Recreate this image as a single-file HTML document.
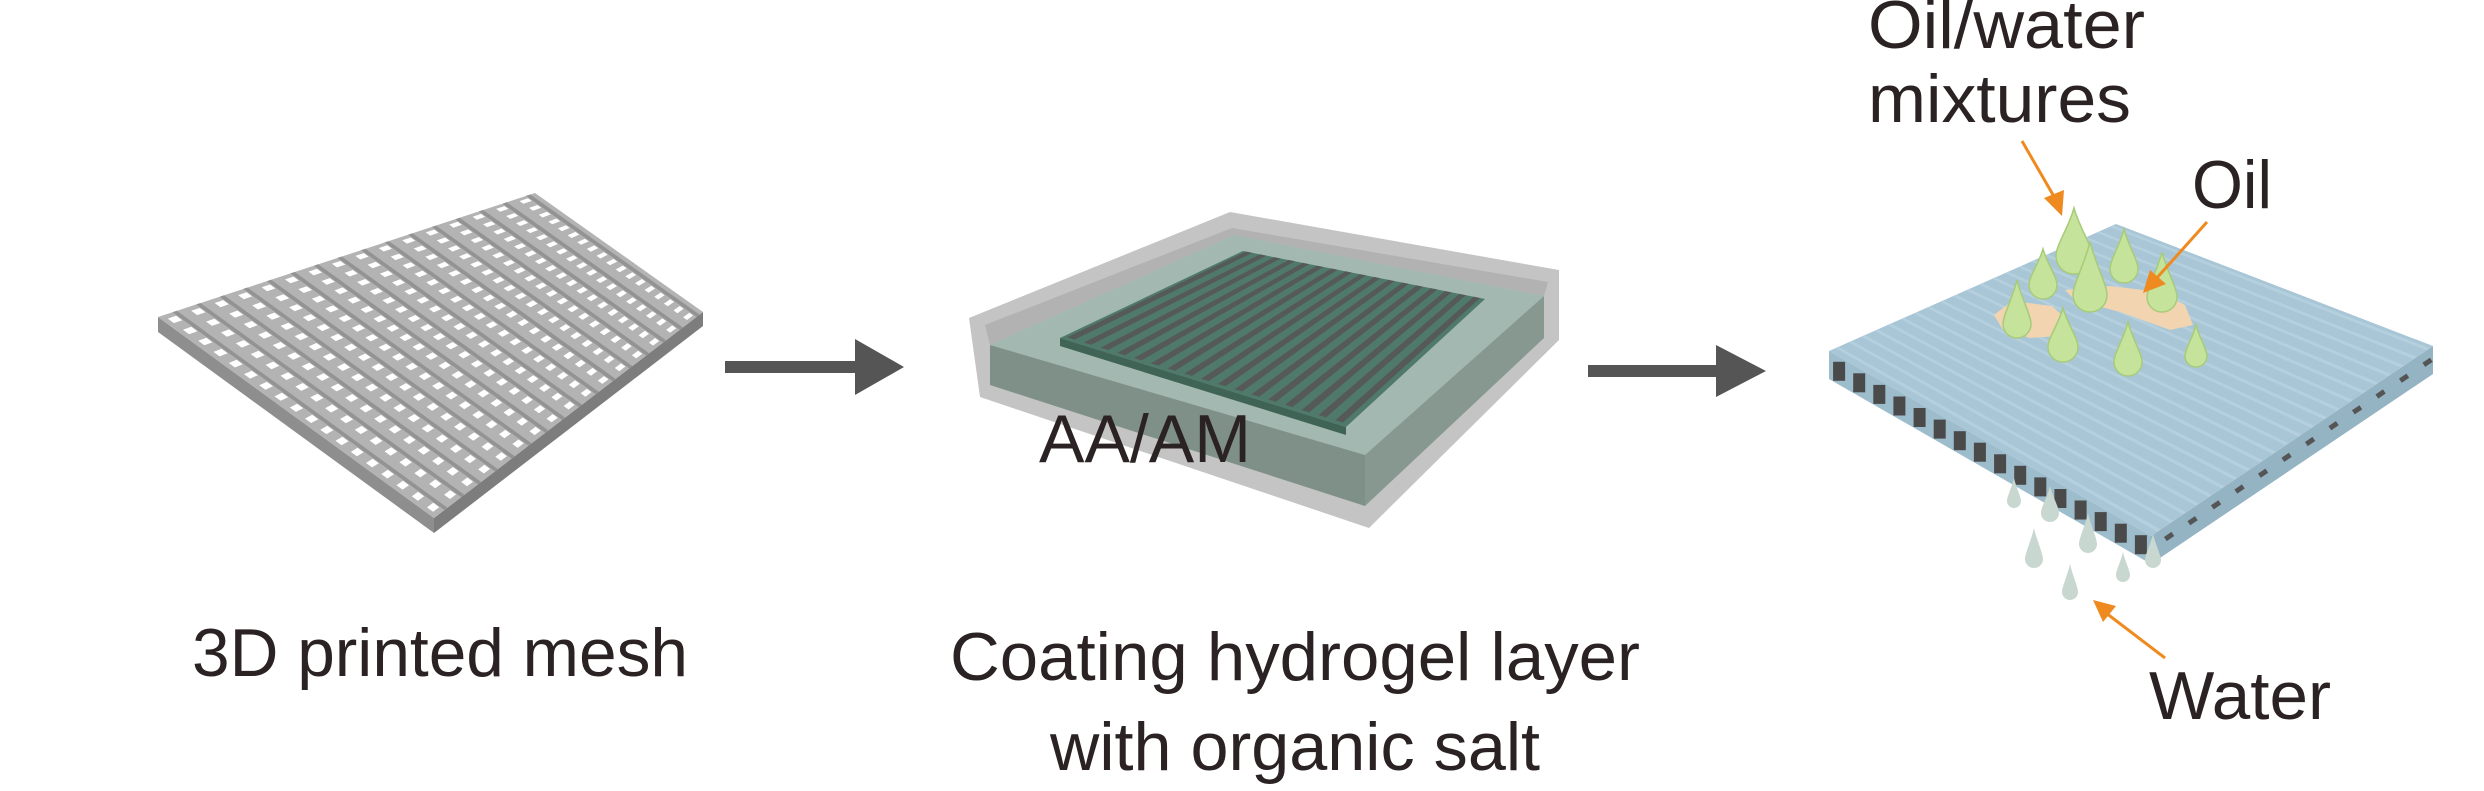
<!DOCTYPE html>
<html><head><meta charset="utf-8"><style>
html,body{margin:0;padding:0;background:#fff;}
svg{display:block;}
text{font-family:"Liberation Sans",sans-serif;fill:#2b2323;}
</style></head><body>
<svg id="s" width="2484" height="791" viewBox="0 0 2484 791" xmlns="http://www.w3.org/2000/svg">
<!-- mesh 1 side faces -->
<polygon points="158,317 434,518 434,533 158,332" fill="#8e8e8e"/>
<polygon points="434,518 703,312 703,326 434,533" fill="#7d7d7d"/>
<polygon points="158,317 535,193 703,312 434,518" fill="#b3b3b3"/>
<g id="m1"></g>
<!-- arrow 1 -->
<rect x="725" y="361" width="132" height="12" fill="#555"/>
<polygon points="855,339 904,367 855,395" fill="#555"/>
<!-- box -->
<polygon points="969,318 1230,212 1559,270 1559,340 1369,528 980,397" fill="#c4c4c4"/>
<polygon points="985,325 1232,228 1548,282 1544,296 1234,235 990,345" fill="#b2b2b2"/>
<polygon points="990,345 1234,235 1544,296 1365,455" fill="#a3b8b0"/>
<polygon points="990,345 1365,455 1365,506 990,385" fill="#7f9088"/>
<polygon points="1365,455 1544,296 1544,338 1365,506" fill="#879891"/>
<polygon points="1060,338 1243,251 1485,299 1346,427" fill="#4f7a6b"/>
<polygon points="1060,338 1346,427 1346,435 1060,346" fill="#3f6355"/>
<g id="m2"></g>
<text x="1039" y="462" font-size="68" textLength="212" lengthAdjust="spacingAndGlyphs">AA/AM</text>
<!-- arrow 2 -->
<rect x="1588" y="365" width="130" height="12" fill="#555"/>
<polygon points="1716,345 1766,371 1716,397" fill="#555"/>
<!-- mesh 3 -->
<polygon points="1829,351 2151,536 2151,564 1829,379" fill="#9dbccc"/>
<polygon points="2151,536 2433,346 2433,374 2151,564" fill="#94b3c3"/>
<polygon points="1829,351 2116,224 2433,346 2151,536" fill="#a9c6d6"/>
<g id="m3"></g>
<!-- oil -->
<polygon points="1994,315 2012,301 2052,306 2065,318 2058,336 2030,338 2003,330" fill="#f2d4b0"/>
<polygon points="2065,290 2110,286 2160,292 2185,305 2193,325 2170,330 2120,312 2075,300" fill="#f2d4b0"/>
<g id="drops"></g>
<!-- orange arrows -->
<g stroke="#ee8a1f" stroke-width="3" fill="#ee8a1f">
<line x1="2022" y1="141" x2="2056" y2="200"/>
<polygon points="2062,216 2044,198 2064,190" stroke="none"/>
<line x1="2207" y1="222" x2="2155" y2="280"/>
<polygon points="2143,293 2150,270 2166,284" stroke="none"/>
<line x1="2165" y1="658" x2="2106" y2="613"/>
<polygon points="2093,600 2116,606 2103,622" stroke="none"/>
</g>
<!-- text -->
<text x="192" y="676" font-size="68" textLength="496" lengthAdjust="spacingAndGlyphs">3D printed mesh</text>
<text x="950" y="680" font-size="68" textLength="690" lengthAdjust="spacingAndGlyphs">Coating hydrogel layer</text>
<text x="1050" y="770" font-size="68" textLength="490" lengthAdjust="spacingAndGlyphs">with organic salt</text>
<text x="1868" y="48" font-size="68" textLength="277" lengthAdjust="spacingAndGlyphs">Oil/water</text>
<text x="1868" y="122" font-size="68" textLength="263" lengthAdjust="spacingAndGlyphs">mixtures</text>
<text x="2192" y="208" font-size="68" textLength="80" lengthAdjust="spacingAndGlyphs">Oil</text>
<text x="2149" y="719" font-size="68" textLength="182" lengthAdjust="spacingAndGlyphs">Water</text>
</svg>
<script>
(function(){
var NS="http://www.w3.org/2000/svg";
function bl(L,T,R,B,u,v){return [L[0]*(1-u)*(1-v)+T[0]*u*(1-v)+R[0]*u*v+B[0]*(1-u)*v, L[1]*(1-u)*(1-v)+T[1]*u*(1-v)+R[1]*u*v+B[1]*(1-u)*v];}
function el(g,tag,a){var e=document.createElementNS(NS,tag);for(var k in a)e.setAttribute(k,a[k]);g.appendChild(e);return e;}
function poly(g,pts,fill){el(g,"polygon",{points:pts.map(function(p){return p[0].toFixed(1)+","+p[1].toFixed(1)}).join(" "),fill:fill});}
var g=document.getElementById("m1"),L=[158,317],T=[535,193],R=[703,312],B=[434,518];
var n=16;
for(var i=0;i<n;i++){
 var u0=(i+0.62)/n,u1=(i+0.8)/n;
 poly(g,[bl(L,T,R,B,u0,0),bl(L,T,R,B,u1,0),bl(L,T,R,B,u1,1),bl(L,T,R,B,u0,1)],"#939393");
 for(var j=0;j<18;j++){var v0=(j+0.3)/18,v1=(j+0.7)/18,a=(i+0.22)/n,b=(i+0.58)/n;
  poly(g,[bl(L,T,R,B,a,v0),bl(L,T,R,B,b,v0),bl(L,T,R,B,b,v1),bl(L,T,R,B,a,v1)],"#ffffff");}
}
g=document.getElementById("m2");L=[1060,338];T=[1243,251];R=[1485,299];B=[1346,427];
for(var i=0;i<17;i++){var v0=(i+0.2)/17,v1=(i+0.65)/17;
 poly(g,[bl(L,T,R,B,0.02,v0),bl(L,T,R,B,1,v0),bl(L,T,R,B,1,v1),bl(L,T,R,B,0.02,v1)],"#555a58");}
g=document.getElementById("m3");L=[1829,351];T=[2116,224];R=[2433,346];B=[2151,536];
for(var i=0;i<22;i++){var u0=(i+0.5)/22,u1=(i+0.75)/22;
 poly(g,[bl(L,T,R,B,u0,0),bl(L,T,R,B,u1,0),bl(L,T,R,B,u1,1),bl(L,T,R,B,u0,1)],"#b4cfdd");}
for(var j=0;j<16;j++){var v=(j+0.5)/16;var p=bl(L,T,R,B,0,v);
 el(g,"rect",{x:(p[0]-6).toFixed(1),y:(p[1]+5).toFixed(1),width:12,height:19,fill:"#4a4a4a"});}
for(var j=0;j<12;j++){var uu=(j+0.5)/12;var p=bl(L,T,R,B,uu,1);
 el(g,"rect",{x:(p[0]-4).toFixed(1),y:(p[1]+8).toFixed(1),width:9,height:5,fill:"#555",transform:"rotate(-34 "+p[0]+" "+p[1]+")"});}
g=document.getElementById("drops");
function drop(cx,by,w,h,fill,stroke){var r=w/2,top=by-h;
 var d="M"+cx+","+top+" C"+(cx+r*0.3)+","+(top+h*0.3)+" "+(cx+r)+","+(by-r*1.6)+" "+(cx+r)+","+(by-r)+" A"+r+","+r+" 0 0 1 "+(cx-r)+","+(by-r)+" C"+(cx-r)+","+(by-r*1.6)+" "+(cx-r*0.3)+","+(top+h*0.3)+" "+cx+","+top+"Z";
 el(g,"path",{d:d,fill:fill,stroke:stroke||"none","stroke-width":1.5});}
var G="#c6e39c",GS="#a6cc78";
[[2074,274,36,66],[2043,299,28,50],[2124,283,28,54],[2090,312,34,70],[2162,312,30,60],[2017,338,28,58],[2063,362,30,54],[2128,376,28,54],[2196,367,22,42]].forEach(function(d){drop(d[0],d[1],d[2],d[3],G,GS);});
var W="#c8d8d0";
[[2014,508,14,30],[2050,522,18,36],[2034,568,18,40],[2088,553,18,40],[2153,568,16,34],[2123,582,14,30],[2070,600,16,36]].forEach(function(d){drop(d[0],d[1],d[2],d[3],W);});
})();
</script>
</body></html>
